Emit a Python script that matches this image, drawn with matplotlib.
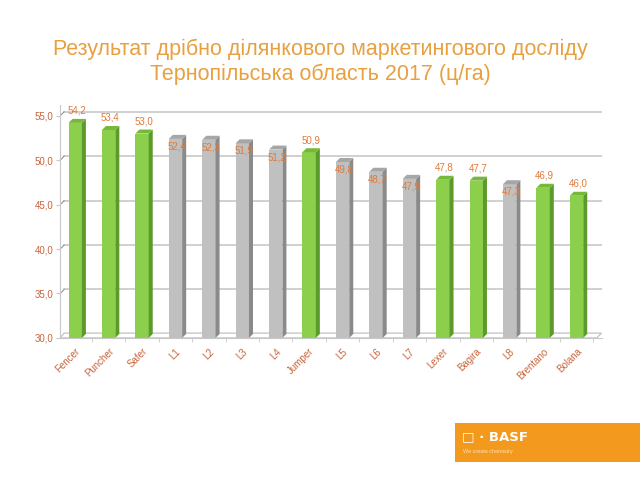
import matplotlib
matplotlib.use("Agg")
import matplotlib.pyplot as plt
from matplotlib.patches import Polygon, Rectangle

plt.rcParams['font.family'] = ['Liberation Sans', 'DejaVu Sans']

varieties = ['Fencer', 'Puncher', 'Safer', 'L1', 'L2', 'L3', 'L4', 'Jumper',
             'L5', 'L6', 'L7', 'Lexer', 'Bagira', 'L8', 'Brentano', 'Bolana']
yields = [54.2, 53.4, 53.0, 52.4, 52.3, 51.9, 51.2, 50.9,
          49.8, 48.7, 47.9, 47.8, 47.7, 47.3, 46.9, 46.0]
is_basf = [True, True, True, False, False, False, False, True,
           False, False, False, True, True, False, True, True]
yticks = [30, 35, 40, 45, 50, 55]

green, green_side, green_top = '#8ccf4c', '#5c9a2c', '#76b83a'
grey, grey_side, grey_top = '#c0c0c0', '#8a8a8a', '#a6a6a6'
lbl_col = '#e07b39'
tick_col = '#c8643c'

fig = plt.figure(figsize=(6.4, 4.8), dpi=100)
ax = fig.add_axes([0.094, 0.296, 0.846, 0.485])

base = 30
w = 0.40
dx, dy = 0.12, 0.45

for y in yticks[1:]:
    ax.plot([-0.45 + dx, 15.75], [y + dy, y + dy], color='#c8c8c8', lw=1.2, zorder=0)
    ax.plot([-0.45, -0.45 + dx], [y, y + dy], color='#888888', lw=0.7, zorder=0)

# floor
ax.add_patch(Polygon([(-0.45, base), (15.6, base), (15.75, base + dy * 1.2),
                      (-0.45 + dx, base + dy * 1.2)], closed=True,
                     facecolor='white', edgecolor='#c8c8c8', lw=1, zorder=0.5))

for i, (v, b) in enumerate(zip(yields, is_basf)):
    fc, sc, tc = (green, green_side, green_top) if b else (grey, grey_side, grey_top)
    x0, x1 = i - w / 2, i + w / 2
    ax.add_patch(Rectangle((x0, base), w, v - base, facecolor=fc, edgecolor='none', zorder=2))
    ax.add_patch(Polygon([(x1, base), (x1 + dx, base + dy), (x1 + dx, v + dy), (x1, v)],
                         closed=True, facecolor=sc, edgecolor='none', zorder=2))
    ax.add_patch(Polygon([(x0, v), (x1, v), (x1 + dx, v + dy), (x0 + dx, v + dy)],
                         closed=True, facecolor=tc, edgecolor='none', zorder=2))
    txt = f'{v:.1f}'.replace('.', ',')
    if b:
        ax.text(i + 0.05, v + dy + 0.35, txt, ha='center', va='bottom',
                fontsize=7, color=lbl_col, zorder=3)
    else:
        ax.text(i + 0.05, v - 0.3, txt, ha='center', va='top',
                fontsize=7, color=lbl_col, zorder=3)

ax.set_xlim(-0.45, 15.75)
ax.set_ylim(30, 56.2)
ax.set_yticks(yticks)
ax.set_yticklabels([f'{t:.1f}'.replace('.', ',') for t in yticks],
                   fontsize=7, color=tick_col)
ax.set_xticks(range(len(varieties)))
ax.set_xticks([i + 0.5 for i in range(len(varieties))], minor=True)
ax.set_xticklabels(varieties, rotation=45, ha='right', rotation_mode='anchor',
                   fontsize=7, color=tick_col)
ax.tick_params(axis='x', which='major', length=0, pad=6)
ax.tick_params(axis='x', which='minor', length=3, color='#c8c8c8')
ax.tick_params(axis='y', length=3, color='#c8c8c8', pad=2)
for s in ['top', 'right']:
    ax.spines[s].set_visible(False)
ax.spines['left'].set_color('#c8c8c8')
ax.spines['bottom'].set_color('#c8c8c8')

fig.text(0.5, 0.898, 'Результат дрібно ділянкового маркетингового досліду',
         ha='center', va='center', fontsize=15.5, color='#e8a040')
fig.text(0.5, 0.846, 'Тернопільська область 2017 (ц/га)',
         ha='center', va='center', fontsize=15.5, color='#e8a040')

# BASF banner
fig.patches.append(Rectangle((455 / 640, 1 - 462 / 480), 185 / 640, 39 / 480,
                             transform=fig.transFigure, facecolor='#f39a1e',
                             edgecolor='none'))
fig.text(462 / 640, 1 - 437 / 480, '\u25a1 \u00b7 BASF', fontsize=9.5, color='white',
         fontweight='bold', va='center', family=['DejaVu Sans'])
fig.text(463 / 640, 1 - 451 / 480, 'We create chemistry', fontsize=4,
         color='#ffe0b0', va='center')

fig.savefig('out.png', dpi=100)
